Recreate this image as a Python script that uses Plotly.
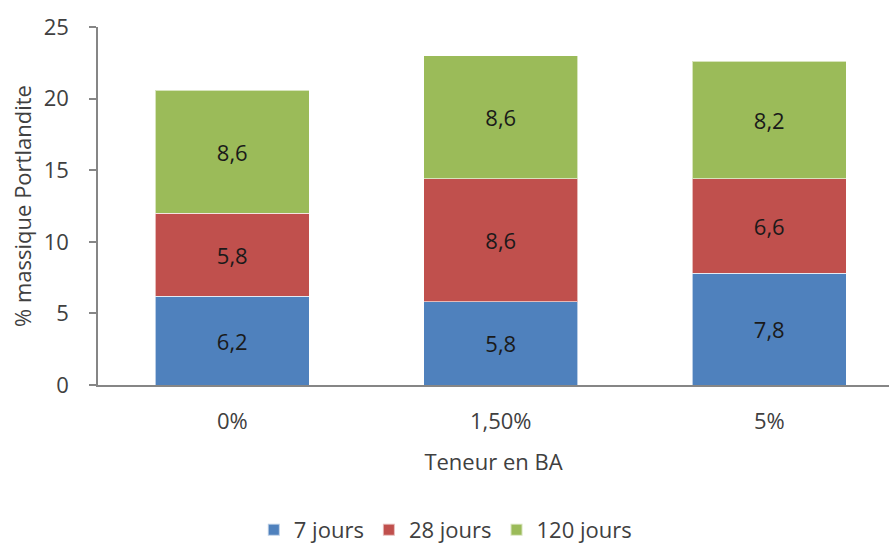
import plotly.graph_objects as go

# Portlandite content by BA dosage, stacked by curing age
categories = ["0%", "1,50%", "5%"]
series_names = ["7 jours", "28 jours", "120 jours"]
jours_7 = [6.2, 5.8, 7.8]
jours_28 = [5.8, 8.6, 6.6]
jours_120 = [8.6, 8.6, 8.2]
colors = ["#4F81BD", "#C0504D", "#9BBB59"]
y_ticks = [0, 5, 10, 15, 20, 25]

FONT = "Open Sans"
FS = 22
TXT = "#404040"

fig = go.Figure()
for name, vals, col in zip(series_names, [jours_7, jours_28, jours_120], colors):
    fig.add_trace(go.Bar(
        x=categories,
        y=vals,
        name=name,
        marker=dict(color=col, line=dict(color="rgba(255,255,255,0.6)", width=1)),
        text=[f"{v:.1f}".replace(".", ",") for v in vals],
        textposition="inside",
        insidetextanchor="middle",
        textangle=0,
        textfont=dict(family=FONT, size=FS, color="#1a1a1a"),
        width=0.574,
    ))

fig.update_layout(
    barmode="stack",
    width=889,
    height=545,
    margin=dict(l=98, r=0, t=27, b=160, autoexpand=False),
    paper_bgcolor="white",
    plot_bgcolor="white",
    font=dict(family=FONT, size=FS, color=TXT),
    uniformtext=dict(mode="show", minsize=FS),
    showlegend=True,
    legend=dict(
        orientation="h",
        x=0.197, xanchor="left",
        y=-0.405, yanchor="middle",
        font=dict(family=FONT, size=FS, color=TXT),
        itemsizing="constant",
        traceorder="normal",
    ),
    xaxis=dict(
        range=[-0.5, 2.446],
        automargin=False,
        showline=True,
        linecolor="#868686",
        linewidth=1.5,
        ticks="",
        showgrid=False,
        ticklabelstandoff=16,
        tickfont=dict(family=FONT, size=FS, color=TXT),
        title=dict(text="Teneur en BA", standoff=20,
                   font=dict(family=FONT, size=FS, color=TXT)),
    ),
    yaxis=dict(
        range=[0, 25],
        automargin=False,
        tickvals=y_ticks,
        showline=True,
        linecolor="#868686",
        linewidth=1.5,
        ticks="outside",
        ticklen=7,
        tickcolor="#868686",
        tickwidth=1.5,
        showgrid=False,
        zeroline=False,
        ticklabelstandoff=16,
        tickfont=dict(family=FONT, size=FS, color=TXT),
        title=dict(text="% massique Portlandite", standoff=6,
                   font=dict(family=FONT, size=FS, color=TXT)),
    ),
)

fig.write_html("out.html")
